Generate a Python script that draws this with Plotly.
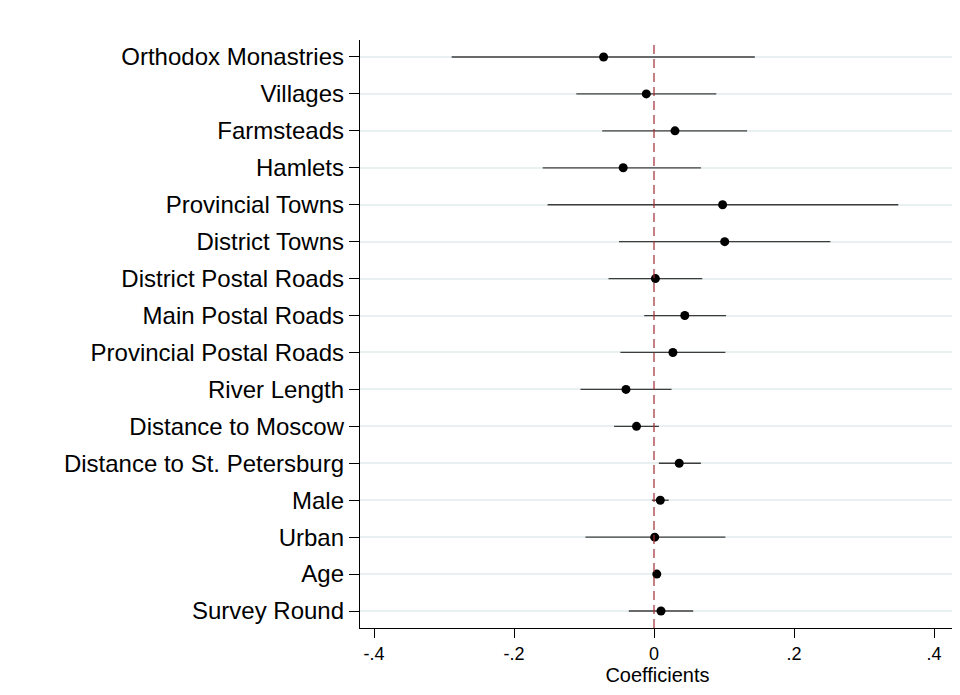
import plotly.graph_objects as go

variables = ["Orthodox Monastries", "Villages", "Farmsteads", "Hamlets", "Provincial Towns",
             "District Towns", "District Postal Roads", "Main Postal Roads", "Provincial Postal Roads",
             "River Length", "Distance to Moscow", "Distance to St. Petersburg", "Male", "Urban",
             "Age", "Survey Round"]
coef = [-0.072, -0.011, 0.030, -0.044, 0.098, 0.101, 0.002, 0.044, 0.027,
        -0.040, -0.025, 0.036, 0.009, 0.001, 0.004, 0.010]
ci_low = [-0.289, -0.111, -0.074, -0.159, -0.152, -0.050, -0.065, -0.014, -0.048,
          -0.105, -0.057, 0.007, -0.003, -0.098, 0.002, -0.036]
ci_high = [0.144, 0.089, 0.133, 0.067, 0.349, 0.252, 0.069, 0.103, 0.102,
           0.025, 0.007, 0.067, 0.021, 0.102, 0.006, 0.056]
x_ticks = [-0.4, -0.2, 0, 0.2, 0.4]
x_tick_labels = ["-.4", "-.2", "0", ".2", ".4"]

err_plus = [h - c for h, c in zip(ci_high, coef)]
err_minus = [c - l for c, l in zip(coef, ci_low)]

fig = go.Figure()
fig.add_trace(go.Scatter(
    x=coef, y=variables, mode="markers",
    marker=dict(color="black", size=9),
    error_x=dict(type="data", array=err_plus, arrayminus=err_minus,
                 color="#3c3c3c", thickness=1.3, width=0),
    showlegend=False,
))

fig.add_shape(type="line", xref="x", yref="paper", x0=0, x1=0, y0=0, y1=1,
              line=dict(color="#a02a30", width=1.2, dash="9px,5px"))

fig.update_layout(
    width=960, height=695,
    margin=dict(l=352, r=13, t=32, b=75),
    paper_bgcolor="white", plot_bgcolor="white",
    font=dict(family="Arial, Liberation Sans, sans-serif", color="black"),
    xaxis=dict(range=[-0.42, 0.43], tickvals=x_ticks, ticktext=x_tick_labels,
               showgrid=False, zeroline=False, showline=True, linecolor="black", linewidth=1.3,
               ticks="outside", ticklen=9, tickcolor="black", tickfont=dict(size=18),
               automargin=False,
               title=dict(text="Coefficients", font=dict(size=20), standoff=0)),
    yaxis=dict(type="category", categoryarray=variables, range=[15.46, -0.46],
               showgrid=True, gridcolor="#e8f0f2", gridwidth=1.5, zeroline=False,
               showline=True, linecolor="black", linewidth=1.3, automargin=False,
               ticks="outside", ticklen=10, tickcolor="black", tickfont=dict(size=24)),
)

fig.write_html("out.html")
